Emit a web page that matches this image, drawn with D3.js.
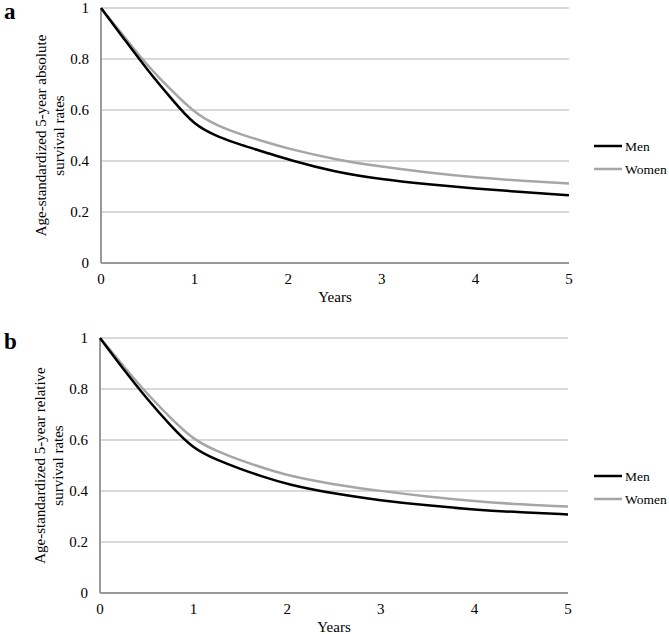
<!DOCTYPE html>
<html>
<head>
<meta charset="utf-8">
<script src="https://cdn.jsdelivr.net/npm/d3@7"></script>
<style>
  body { margin: 0; background: #fff; }
  svg text { font-family: "Liberation Serif", "Times New Roman", serif; fill: #000; }
</style>
</head>
<body>
<svg id="chart" width="669" height="634"></svg>
<script>
// years on the x axis
const years = [0, 0.25, 0.5, 0.75, 1, 1.25, 1.5, 1.75, 2, 2.5, 3, 3.5, 4, 4.5, 5];

// panel a: absolute survival
const absMen   = [1, 0.877, 0.755, 0.645, 0.538, 0.495, 0.462, 0.435, 0.405, 0.357, 0.328, 0.308, 0.292, 0.278, 0.266];
const absWomen = [1, 0.887, 0.772, 0.678, 0.588, 0.537, 0.504, 0.475, 0.448, 0.406, 0.377, 0.354, 0.335, 0.322, 0.312];

// panel b: relative survival
const relMen   = [1, 0.877, 0.762, 0.658, 0.564, 0.522, 0.486, 0.455, 0.426, 0.389, 0.363, 0.343, 0.327, 0.316, 0.308];
const relWomen = [1, 0.89, 0.782, 0.688, 0.6, 0.556, 0.52, 0.49, 0.461, 0.425, 0.4, 0.378, 0.36, 0.347, 0.339];

const xTicks = [0, 1, 2, 3, 4, 5];
const yTicks = [0, 0.2, 0.4, 0.6, 0.8, 1];
const seriesNames = ['Men', 'Women'];
const seriesColors = ['#000000', '#a6a6a6'];

const panels = [
  { letter: 'a', top: 8, left: 101, title: ['Age-standardized 5-year absolute', 'survival rates'], data: [absMen, absWomen] },
  { letter: 'b', top: 338, left: 100, title: ['Age-standardized 5-year relative', 'survival rates'], data: [relMen, relWomen] },
];

const svg = d3.select('#chart');
const W = 468, H = 255;

panels.forEach(p => {
  const g = svg.append('g').attr('transform', `translate(${p.left},${p.top})`);
  const x = d3.scaleLinear().domain([0, 5]).range([0, W]);
  const y = d3.scaleLinear().domain([0, 1]).range([H, 0]);

  // gridlines
  g.append('g').selectAll('line').data(yTicks.filter(d => d > 0)).join('line')
    .attr('x1', 0).attr('x2', W)
    .attr('y1', d => y(d)).attr('y2', d => y(d))
    .attr('stroke', '#b3b3b3').attr('stroke-width', 1);

  // axis lines
  g.append('line').attr('x1', 0).attr('x2', 0).attr('y1', 0).attr('y2', H)
    .attr('stroke', '#999').attr('stroke-width', 2);
  g.append('line').attr('x1', 0).attr('x2', W).attr('y1', H).attr('y2', H)
    .attr('stroke', '#999').attr('stroke-width', 2);

  // tick labels
  g.append('g').selectAll('text').data(yTicks).join('text')
    .attr('x', -12).attr('y', d => y(d)).attr('dy', '0.35em')
    .attr('text-anchor', 'end').attr('font-size', 15)
    .text(d => d3.format('~g')(d));
  g.append('g').selectAll('text').data(xTicks).join('text')
    .attr('x', d => x(d)).attr('y', H + 21)
    .attr('text-anchor', 'middle').attr('font-size', 15)
    .text(d => d);

  // axis titles
  g.append('text').attr('x', W / 2).attr('y', H + 39)
    .attr('text-anchor', 'middle').attr('font-size', 15).text('Years');
  const yt = g.append('text')
    .attr('transform', `translate(${-55},${H / 2}) rotate(-90)`)
    .attr('text-anchor', 'middle').attr('font-size', 15);
  yt.append('tspan').attr('x', 0).attr('y', 0).text(p.title[0]);
  yt.append('tspan').attr('x', 0).attr('y', 18).text(p.title[1]);

  // panel letter
  svg.append('text').attr('x', 4).attr('y', p.top + 11)
    .attr('font-size', 23).attr('font-weight', 'bold').text(p.letter);

  // lines (women first so men sit on top)
  const line = d3.line().x((d, i) => x(years[i])).y(d => y(d)).curve(d3.curveBasis);
  [1, 0].forEach(k => {
    g.append('path').datum(p.data[k])
      .attr('d', line).attr('fill', 'none')
      .attr('stroke', seriesColors[k]).attr('stroke-width', 2.5)
      .attr('stroke-linejoin', 'round');
  });

  // legend
  const lg = g.append('g').attr('transform', `translate(${594 - p.left},${138})`);
  seriesNames.forEach((name, k) => {
    lg.append('line').attr('x1', 0).attr('x2', 28)
      .attr('y1', k * 23).attr('y2', k * 23)
      .attr('stroke', seriesColors[k]).attr('stroke-width', 2.5);
    lg.append('text').attr('x', 31).attr('y', k * 23).attr('dy', '0.35em')
      .attr('font-size', 13.5).text(name);
  });
});
</script>
</body>
</html>
